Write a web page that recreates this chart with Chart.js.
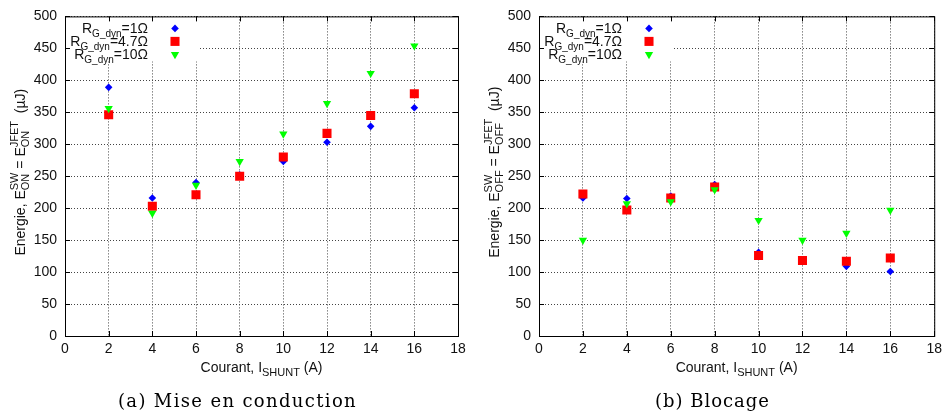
<!DOCTYPE html>
<html><head><meta charset="utf-8">
<script src="https://cdn.jsdelivr.net/npm/chart.js@4.4.1/dist/chart.umd.min.js"></script>
<style>
html,body{margin:0;padding:0;background:#fff;width:947px;height:414px;overflow:hidden}
#cl{position:absolute;left:0;top:0}
#cr{position:absolute;left:473px;top:0}
</style>
</head><body>
<canvas id="cl" width="473" height="414"></canvas>
<canvas id="cr" width="474" height="414"></canvas>
<script>
// ---- data ----
const currents = [2, 4, 6, 8, 10, 12, 14, 16];
const xTickValues = [0, 2, 4, 6, 8, 10, 12, 14, 16, 18];
const yTickValues = [0, 50, 100, 150, 200, 250, 300, 350, 400, 450, 500];
const onR1  = [389, 216, 240, 252, 273, 303, 328, 357];
const onR47 = [346, 203, 221, 250, 280, 317, 345, 379];
const onR10 = [356, 192, 236, 273, 316, 364, 411, 454];
const offR1  = [216, 215, 219, 237, 131, 119, 109, 101];
const offR47 = [222, 197, 216, 233, 126, 118, 117, 122];
const offR10 = [150, 207, 210, 229, 181, 150, 161, 197];
const seriesNames = ['=1Ω', '=4.7Ω', '=10Ω'];

const SANS = 'Liberation Sans, Arial, sans-serif';
const SERIF = 'DejaVu Serif, serif';
const styles = [
  {pointStyle: 'rectRot', radius: 3.8, rotation: 0, color: '#0000ff'},
  {pointStyle: 'rect', radius: 6.4, rotation: 0, color: '#ff0000'},
  {pointStyle: 'triangle', radius: 4.8, rotation: 180, color: '#00ff00'}
];

function drawSegments(ctx, segs, x, y, align, mainSize, smallSize) {
  const main = (mainSize || 14) + 'px ' + SANS, small = (smallSize || 11) + 'px ' + SANS;
  const w = segs.map(s => {
    if (s.t !== undefined) { ctx.font = main; return ctx.measureText(s.t).width; }
    ctx.font = small;
    if (s.stack) return Math.max(ctx.measureText(s.stack[0]).width, ctx.measureText(s.stack[1]).width);
    return ctx.measureText(s.sub || s.sup).width;
  });
  const total = w.reduce((a, b) => a + b, 0);
  let cx = align === 'center' ? x - total / 2 : (align === 'right' ? x - total : x);
  ctx.textAlign = 'left';
  ctx.textBaseline = 'alphabetic';
  segs.forEach((s, i) => {
    if (s.t !== undefined) { ctx.font = main; ctx.fillText(s.t, cx, y); }
    else {
      ctx.font = small;
      if (s.stack) { ctx.fillText(s.stack[0], cx, y - 7); ctx.fillText(s.stack[1], cx, y + 4); }
      else if (s.sub) ctx.fillText(s.sub, cx, y + 4);
      else ctx.fillText(s.sup, cx, y - 7);
    }
    cx += w[i];
  });
}

function makeDecor(yTitleSegs, caption, captionCx, captionW) {
  return {
    id: 'decor',
    beforeDatasetsDraw(chart) {
      const {ctx, chartArea: a} = chart;
      ctx.save();
      ctx.fillStyle = '#fff';
      ctx.fillRect(a.left + 1, a.top + 1, 134, 44);
      ctx.restore();
    },
    afterDatasetsDraw(chart) {
      const {ctx, chartArea: a, scales} = chart;
      ctx.save();
      ctx.strokeStyle = '#000';
      ctx.lineWidth = 1;
      ctx.strokeRect(a.left + 0.5, a.top + 0.5, a.right - a.left, a.bottom - a.top);
      ctx.beginPath();
      xTickValues.forEach(v => {
        const px = Math.round(scales.x.getPixelForValue(v)) + 0.5;
        ctx.moveTo(px, a.bottom); ctx.lineTo(px, a.bottom - 5);
        ctx.moveTo(px, a.top); ctx.lineTo(px, a.top + 5);
      });
      yTickValues.forEach(v => {
        const py = Math.round(scales.y.getPixelForValue(v)) + 0.5;
        ctx.moveTo(a.left, py); ctx.lineTo(a.left + 5, py);
        ctx.moveTo(a.right, py); ctx.lineTo(a.right - 5, py);
      });
      ctx.stroke();
      // legend
      ctx.fillStyle = '#111';
      seriesNames.forEach((n, i) => {
        const y = a.top + 12 + i * 13;
        drawSegments(ctx, [{t: 'R'}, {sub: 'G_dyn'}, {t: n}], a.left + 83, y + 5, 'right', 14, 10);
      });
      styles.forEach((s, i) => {
        const y = a.top + 12 + i * 13;
        ctx.fillStyle = s.color;
        Chart.helpers.drawPoint(ctx, {pointStyle: s.pointStyle, radius: s.radius, rotation: s.rotation, borderWidth: 0}, a.left + 110, y);
      });
      ctx.restore();
    },
    afterDraw(chart) {
      const {ctx, chartArea: a} = chart;
      ctx.save();
      ctx.fillStyle = '#111';
      drawSegments(ctx, [{t: 'Courant, I'}, {sub: 'SHUNT'}, {t: ' (A)'}], (a.left + a.right) / 2, 372, 'center');
      ctx.translate(a.left - 40, (a.top + a.bottom) / 2 - 4);
      ctx.rotate(-Math.PI / 2);
      drawSegments(ctx, yTitleSegs, 0, 0, 'center');
      ctx.restore();
      // caption
      ctx.save();
      ctx.fillStyle = '#000';
      ctx.font = '18px ' + SERIF;
      ctx.letterSpacing = '0px';
      const w0 = ctx.measureText(caption).width;
      const sp = Math.max(0, (captionW - w0) / (caption.length));
      ctx.letterSpacing = sp.toFixed(2) + 'px';
      const w1 = ctx.measureText(caption).width;
      ctx.textAlign = 'left';
      ctx.textBaseline = 'alphabetic';
      ctx.fillText(caption, captionCx - w1 / 2, 407);
      ctx.restore();
    }
  };
}

function makeChart(id, d1, d2, d3, axisW, padRight, yTitleSegs, caption, captionCx, captionW) {
  const sets = [d1, d2, d3].map((d, i) => ({
    data: currents.map((x, k) => ({x: x, y: d[k]})),
    pointStyle: styles[i].pointStyle,
    pointRadius: styles[i].radius,
    pointRotation: styles[i].rotation,
    backgroundColor: styles[i].color,
    borderWidth: 0,
    pointBorderWidth: 0,
    showLine: false,
    order: 3 - i
  }));
  const tickFont = {family: SANS, size: 14};
  return new Chart(document.getElementById(id), {
    type: 'scatter',
    data: {datasets: sets},
    options: {
      responsive: false, animation: false, events: [],
      layout: {padding: {top: 14, right: padRight, left: 0, bottom: 0}},
      plugins: {legend: {display: false}, tooltip: {enabled: false}},
      scales: {
        x: {
          type: 'linear', min: 0, max: 18,
          afterBuildTicks: s => { s.ticks = xTickValues.map(v => ({value: v})); },
          ticks: {font: tickFont, color: '#111', padding: 5, maxRotation: 0, autoSkip: false},
          grid: {color: '#444', lineWidth: 1, drawTicks: false},
          border: {display: false, dash: [1, 2]},
          afterFit: s => { s.height = 78; }
        },
        y: {
          type: 'linear', min: 0, max: 500,
          afterBuildTicks: s => { s.ticks = yTickValues.map(v => ({value: v})); },
          ticks: {font: tickFont, color: '#111', padding: 8, autoSkip: false},
          grid: {color: '#444', lineWidth: 1, drawTicks: false},
          border: {display: false, dash: [1, 2]},
          afterFit: s => { s.width = axisW; }
        }
      }
    },
    plugins: [makeDecor(yTitleSegs, caption, captionCx, captionW)]
  });
}

makeChart('cl', onR1, onR47, onR10, 65, 15,
  [{t: 'Energie, E'}, {stack: ['SW', 'ON']}, {t: ' = E'}, {stack: ['JFET', 'ON']}, {t: '  (µJ)'}],
  '(a) Mise en conduction', 237.5, 239);
makeChart('cr', offR1, offR47, offR10, 66, 12,
  [{t: 'Energie, E'}, {stack: ['SW', 'OFF']}, {t: ' = E'}, {stack: ['JFET', 'OFF']}, {t: '  (µJ)'}],
  '(b) Blocage', 239.5, 115);
</script>
</body></html>
